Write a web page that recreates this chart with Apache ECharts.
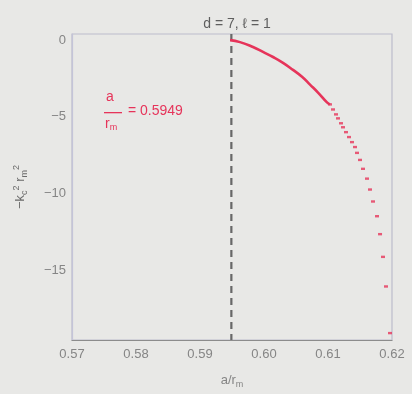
<!DOCTYPE html>
<html>
<head>
<meta charset="utf-8">
<script src="https://cdn.jsdelivr.net/npm/echarts@6/dist/echarts.min.js"></script>
<style>
  html, body { margin: 0; padding: 0; background: #e8e8e6; }
  #chart { width: 412px; height: 394px; }
</style>
</head>
<body>
<div id="chart"></div>
<script>
// Critical ratio a/r_m and the branch of -k_c^2 r_m^2 that starts from it
const criticalRatio = 0.5949;

// closely spaced samples near the critical point (drawn as a continuous stroke)
const denseX = [0.5947, 0.59625, 0.59828, 0.59984, 0.60141, 0.60297, 0.60453, 0.60594, 0.60719, 0.60844, 0.60984, 0.61031];
const denseY = [0.0, -0.13, -0.45, -0.77, -1.10, -1.48, -1.94, -2.39, -2.90, -3.42, -4.06, -4.19];

// individually resolved samples further along the branch
const sparseX = [0.61031, 0.61078, 0.61125, 0.61156, 0.61203, 0.61234, 0.61281, 0.61328, 0.61375, 0.61422, 0.61453,
                 0.61500, 0.61547, 0.61609, 0.61656, 0.61703, 0.61766, 0.61813, 0.61859, 0.61906, 0.61969];
const sparseY = [-4.19, -4.52, -4.84, -5.10, -5.42, -5.68, -6.00, -6.32, -6.65, -6.97, -7.35,
                 -7.81, -8.39, -9.03, -9.74, -10.52, -11.48, -12.65, -14.13, -16.06, -19.10];

const yTicks = [0, -5, -10, -15];
const xTicks = [0.57, 0.58, 0.59, 0.60, 0.61, 0.62];
const yRange = [-19.55, 0.4];

const red = '#e6345a';
const axisText = '#858585';
const font = 'Liberation Sans';

const chart = echarts.init(document.getElementById('chart'));

chart.setOption({
  backgroundColor: '#e8e8e6',
  animation: false,
  title: {
    text: 'd = 7, \u2113 = 1',
    left: 232,
    top: 12,
    textAlign: 'center',
    textStyle: { color: '#5e5e5e', fontFamily: font, fontSize: 14, fontWeight: 'normal' }
  },
  grid: {
    left: 72, right: 20, top: 34, bottom: 51,
    show: true, borderColor: '#bcbccc', borderWidth: 1.2, backgroundColor: 'transparent'
  },
  xAxis: {
    type: 'value',
    min: xTicks[0],
    max: xTicks[xTicks.length - 1],
    interval: 0.01,
    axisLine: { show: true, onZero: false, lineStyle: { color: '#8c8c8c', width: 1.2 } },
    axisTick: { show: false },
    splitLine: { show: false },
    axisLabel: {
      color: axisText, fontFamily: font, fontSize: 13, margin: 8,
      formatter: v => v.toFixed(2)
    },
    name: 'a/r{s|m}',
    nameLocation: 'middle',
    nameGap: 32,
    nameTextStyle: {
      color: axisText, fontFamily: font, fontSize: 13,
      rich: { s: { fontSize: 9, color: axisText, fontFamily: font, padding: [8, 0, 0, 0] } }
    }
  },
  yAxis: {
    type: 'value',
    min: yRange[0],
    max: yRange[1],
    axisLine: { show: true, onZero: false, lineStyle: { color: '#c4c4d8', width: 1.2 } },
    axisTick: { show: false, customValues: yTicks },
    splitLine: { show: false },
    axisLabel: {
      color: axisText, fontFamily: font, fontSize: 13, margin: 6,
      customValues: yTicks,
      formatter: v => (v < 0 ? '\u2212' + Math.abs(v) : String(v))
    },
    name: '\u2212k{s|c}{p|2} r{s|m}{p|2}',
    nameLocation: 'middle',
    nameRotate: 90,
    nameGap: 43,
    nameTextStyle: {
      color: '#6a6a6a', fontFamily: font, fontSize: 13,
      rich: {
        s: { fontSize: 9, color: '#6a6a6a', fontFamily: font, padding: [8, 0, 0, 0] },
        p: { fontSize: 9, color: '#6a6a6a', fontFamily: font, padding: [0, 0, 8, 0] }
      }
    }
  },
  graphic: [
    {
      type: 'text', left: 106, top: 90,
      style: { text: 'a', fill: red, font: '14px "Liberation Sans"' }
    },
    {
      type: 'rect', shape: { x: 104, y: 112, width: 18, height: 1.3 },
      style: { fill: red }
    },
    {
      type: 'text', left: 105, top: 117,
      style: {
        text: 'r{s|m}', fill: red, font: '14px "Liberation Sans"',
        rich: { s: { fontSize: 9, fill: red, padding: [7, 0, 0, 0] } }
      }
    },
    {
      type: 'text', left: 128, top: 104,
      style: { text: '= 0.5949', fill: red, font: '14px "Liberation Sans"' }
    }
  ],
  series: [
    {
      // vertical dashed marker at the critical ratio
      type: 'line',
      data: [[criticalRatio, yRange[1]], [criticalRatio, yRange[0]]],
      showSymbol: false,
      silent: true,
      lineStyle: { color: '#686868', type: [7, 5], width: 2.2 },
      z: 2
    },
    {
      type: 'line',
      data: denseX.map((x, i) => [x, denseY[i]]),
      showSymbol: false,
      smooth: true,
      lineStyle: { color: red, width: 2.6 },
      z: 3
    },
    {
      type: 'scatter',
      data: sparseX.map((x, i) => [x, sparseY[i]]),
      symbol: 'rect',
      symbolSize: [4, 2.4],
      itemStyle: { color: red },
      z: 4
    }
  ]
});
</script>
</body>
</html>
